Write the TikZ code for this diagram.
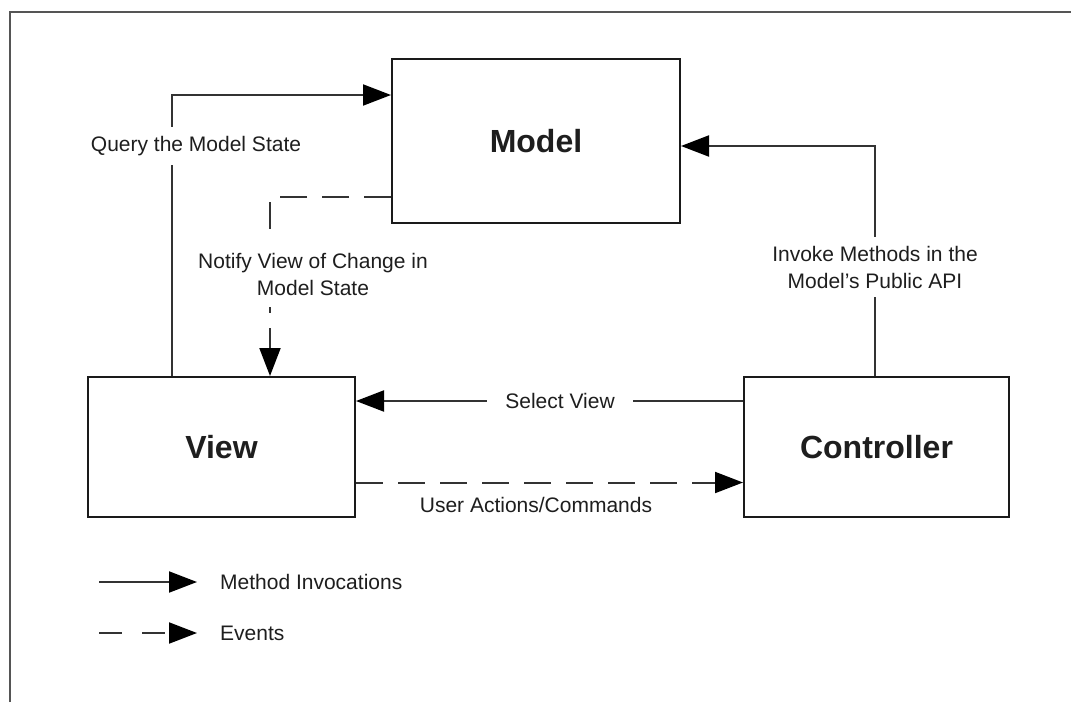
\documentclass[tikz,border=0pt]{standalone}
\usepackage{fontspec}
\setmainfont{Liberation Sans}
\usetikzlibrary{arrows.meta}
\definecolor{ink}{HTML}{1E1E1E}
\definecolor{boxline}{HTML}{1A1A1A}
\definecolor{wire}{HTML}{333333}
\definecolor{frameline}{HTML}{555555}
\begin{document}
\begin{tikzpicture}[x=1pt,y=-1pt,
  box/.style={draw=boxline, line width=2pt, fill=white, inner sep=0pt,
    font=\fontsize{32}{38}\selectfont\bfseries, text=ink},
  call/.style={draw=wire, line width=2pt,
    -{Triangle[length=28pt,width=21pt,color=black]}},
  event/.style={call, dash pattern=on 27pt off 15pt},
  lbl/.style={font=\fontsize{21}{27}\selectfont, text=ink, align=center,
    fill=white, inner xsep=18pt, inner ysep=9pt},
  plain/.style={font=\fontsize{21}{27}\selectfont, text=ink, inner sep=0pt}]

\useasboundingbox (0,0) rectangle (1071,702);
\fill[white] (0,0) rectangle (1071,702);

% page frame
\draw[frameline, line width=2pt] (10,702) -- (10,12) -- (1071,12);

% the three components
\node[box, minimum width=288pt, minimum height=164pt] (model) at (536,141) {Model};
\node[box, minimum width=267pt, minimum height=140pt] (view) at (221.5,447) {View};
\node[box, minimum width=265pt, minimum height=140pt] (ctrl) at (876.5,447) {Controller};

% bend points of the routed connectors
\coordinate (q) at (172,95);
\coordinate (n) at (270,197);
\coordinate (iv) at (875,146);
\coordinate (sv) at (0,401);
\coordinate (ua) at (0,482.5);

% view queries the model
\draw[call] (view.north -| q) |- (model.west |- q);
\node[lbl] (qlabel) at (196,146) {Query the Model State};

% model notifies the view
\draw[event] (model.west |- n) -| (view.north -| n);
\node[lbl, inner ysep=12pt] (nlabel) at (313,274) {Notify View of Change in\\Model State};

% controller invokes the model
\draw[call] (ctrl.north -| iv) |- (model.east |- iv);
\node[lbl] (ilabel) at (875,267) {Invoke Methods in the\\Model's Public API};

% controller selects the view
\draw[call] (ctrl.west |- sv) -- (view.east |- sv);
\node[lbl] (slabel) at (560,401) {Select View};

% user actions go from view to controller
\draw[event] (view.east |- ua) -- (ctrl.west |- ua);
\node[plain] (ulabel) at (536,505) {User Actions/Commands};

% legend
\coordinate (la1) at (99,582);
\coordinate (lb1) at (197,582);
\coordinate (la2) at (99,633);
\coordinate (lb2) at (197,633);
\draw[call] (la1) -- (lb1);
\draw[call, dash pattern=on 23pt off 20pt] (la2) -- (lb2);
\node[plain, anchor=west] (lt1) at (220,582) {Method Invocations};
\node[plain, anchor=west] (lt2) at (220,633) {Events};
\end{tikzpicture}
\end{document}
